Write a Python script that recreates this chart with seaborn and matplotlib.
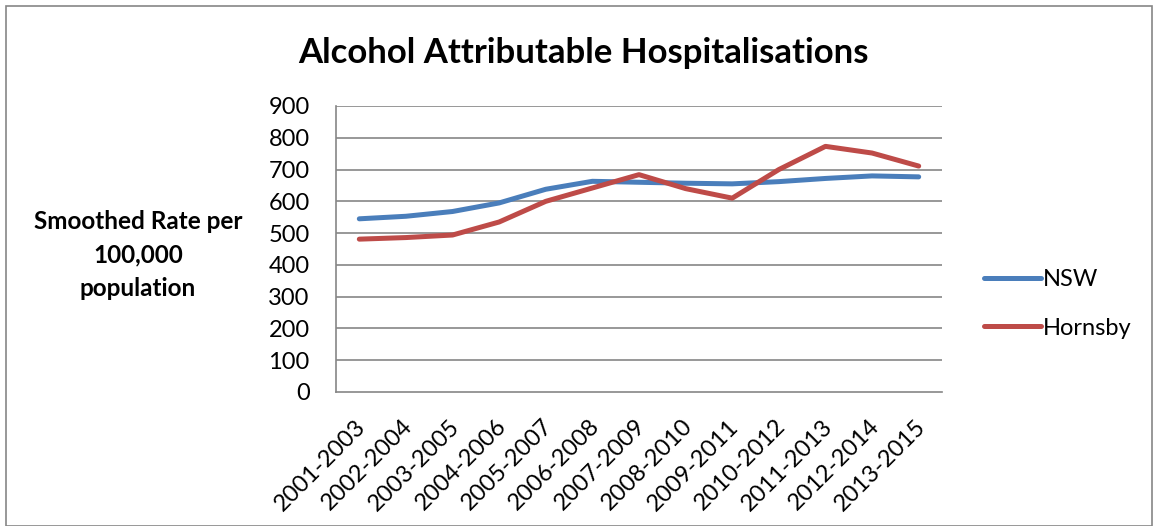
import matplotlib
matplotlib.use("Agg")
import matplotlib.pyplot as plt
import matplotlib.transforms as mtransforms
import seaborn as sns
import pandas as pd
from matplotlib.patches import Rectangle
from matplotlib.lines import Line2D

periods = ["2001-2003", "2002-2004", "2003-2005", "2004-2006", "2005-2007", "2006-2008",
           "2007-2009", "2008-2010", "2009-2011", "2010-2012", "2011-2013", "2012-2014", "2013-2015"]
nsw = [545, 553, 568, 595, 638, 663, 660, 657, 655, 662, 672, 680, 677]
hornsby = [481, 486, 494, 535, 600, 642, 684, 640, 610, 700, 773, 752, 711]
series_names = ["NSW", "Hornsby"]
yticks = [0, 100, 200, 300, 400, 500, 600, 700, 800, 900]

df = pd.DataFrame({
    "Period": periods * 2,
    "Rate": nsw + hornsby,
    "Series": [series_names[0]] * len(periods) + [series_names[1]] * len(periods),
})
df["pos"] = list(range(len(periods))) * 2

sns.set_theme(style="white")
plt.rcParams['font.family'] = ['Lato', 'DejaVu Sans']
plt.rcParams['text.color'] = 'black'
plt.rcParams['xtick.color'] = 'black'
plt.rcParams['ytick.color'] = 'black'

fig = plt.figure(figsize=(11.54, 5.26), dpi=100)
ax = fig.add_axes([336/1154, 1-392/526, (942-336)/1154, (392-106)/526])

palette = {"NSW": "#4A7EBB", "Hornsby": "#BE4B48"}
sns.lineplot(data=df, x="pos", y="Rate", hue="Series", palette=palette, linewidth=3.6,
             ax=ax, legend=False, sort=False)

ax.set_xlim(-0.5, len(periods) - 0.5)
ax.set_ylim(0, 900)
ax.set_yticks(yticks)
ax.set_yticklabels([str(t) for t in yticks], fontsize=17)
ax.set_xticks(range(len(periods)))
ax.set_xticklabels(periods, rotation=45, ha="right", rotation_mode="anchor", fontsize=17)
ax.tick_params(axis="x", pad=17, length=0, labelcolor="black")
ax.tick_params(axis="y", pad=19, length=0, labelcolor="black")
offset = mtransforms.ScaledTranslation(-4/100, 0, fig.dpi_scale_trans)
for lab in ax.get_xticklabels():
    lab.set_transform(lab.get_transform() + offset)
for t in yticks[1:]:
    ax.axhline(t, color="#868686", linewidth=1.2, zorder=0)
for s in ["top", "right"]:
    ax.spines[s].set_visible(False)
ax.spines["left"].set_color("#868686")
ax.spines["bottom"].set_color("#868686")
ax.spines["left"].set_linewidth(1.2)
ax.spines["bottom"].set_linewidth(1.2)
ax.set_xlabel("")
ax.set_ylabel("")

fig.text(583/1154, 1-53/526, "Alcohol Attributable Hospitalisations", ha="center", va="center",
         fontsize=25, fontweight="bold", color="black")
fig.text(138/1154, 1-255/526, "Smoothed Rate per\n100,000\npopulation", ha="center", va="center",
         fontsize=17.5, fontweight="bold", linespacing=1.55, color="black")

handles = [Line2D([0], [0], color=palette[n], linewidth=3.6, solid_capstyle="round") for n in series_names]
fig.legend(handles, series_names, loc="center left", bbox_to_anchor=(963/1154, 1-304/526),
           frameon=False, fontsize=17, handlelength=2.4, handletextpad=0.1, labelspacing=1.15)

fig.patches.append(Rectangle((6/1154, 0), 1 - 8/1154, 1 - 6/526, transform=fig.transFigure,
                             fill=False, edgecolor="#868686", linewidth=1.2))

fig.savefig("out.png", dpi=100)
